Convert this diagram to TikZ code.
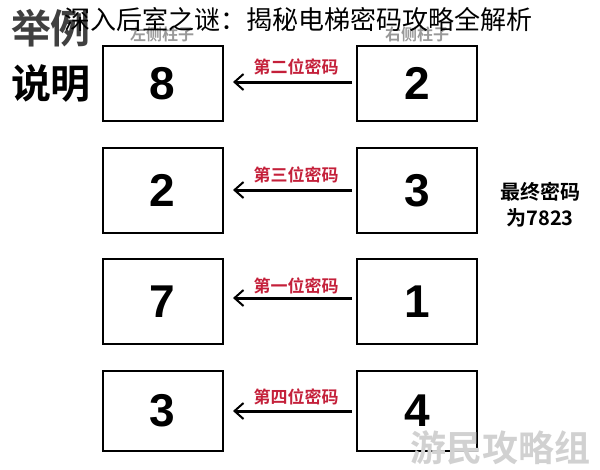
\documentclass[tikz,border=0pt]{standalone}
\usepackage{fontspec}
\setmainfont{Liberation Sans}
\newfontfamily\cjk{Noto Sans CJK SC}[BoldFont={* Bold}]
\usetikzlibrary{arrows.meta}
\definecolor{lblred}{HTML}{C4203A}
\tikzset{
  x=1pt,y=-1pt,
  numbox/.style={draw=black,line width=2pt,minimum width=120pt,minimum height=80pt,inner sep=0pt,font=\fontsize{46}{46}\selectfont\bfseries},
  lbl/.style={font=\cjk\bfseries\fontsize{17}{17}\selectfont,text=lblred,inner sep=0pt},
  arr/.style={line width=3pt,-{Straight Barb[length=9pt,width=16pt,line width=2pt]}},
  side/.style={font=\cjk\bfseries\fontsize{40}{40}\selectfont,inner sep=0pt},
  colhead/.style={font=\cjk\bfseries\fontsize{16}{16}\selectfont,text=black!40,inner sep=0pt},
}
\begin{document}
\begin{tikzpicture}
\useasboundingbox (0,0) rectangle (600,469);
% column headers
\node[colhead] (hl) at (162,34) {左侧柱子};
\node[colhead] (hr) at (417,34) {右侧柱子};
% side text
\node[side,text=black!75] (s1) at (51,28) {举例};
\node[side] (s2) at (51,83) {说明};
% boxes
\node[numbox,minimum height=75pt] (L1) at (162.5,83.5) {8};
\node[numbox,minimum height=75pt] (R1) at (417,83.5) {2};
\node[numbox,minimum height=85pt] (L2) at (162.5,190.5) {2};
\node[numbox,minimum height=85pt] (R2) at (417,190.5) {3};
\node[numbox,minimum height=85pt] (L3) at (162.5,301.5) {7};
\node[numbox,minimum height=85pt] (R3) at (417,301.5) {1};
\node[numbox] (L4) at (162.5,411) {3};
\node[numbox] (R4) at (417,411) {4};
% arrows
\coordinate (a1s) at (352,82); \coordinate (a1e) at (233,82);
\coordinate (a2s) at (352,190); \coordinate (a2e) at (233,190);
\coordinate (a3s) at (352,298); \coordinate (a3e) at (233,298);
\coordinate (a4s) at (352,411); \coordinate (a4e) at (233,411);
\draw[arr] (a1s) -- (a1e);
\draw[arr] (a2s) -- (a2e);
\draw[arr] (a3s) -- (a3e);
\draw[arr] (a4s) -- (a4e);
\node[lbl] (t1) at (296,67) {第二位密码};
\node[lbl] (t2) at (296,175) {第三位密码};
\node[lbl] (t3) at (296,286) {第一位密码};
\node[lbl] (t4) at (296,397) {第四位密码};
% final
\node[font=\cjk\bfseries\fontsize{20}{20}\selectfont,inner sep=0pt] (f1) at (540,192) {最终密码};
\node[font=\cjk\bfseries\fontsize{20}{20}\selectfont,inner sep=0pt] (f2) at (540,218) {为7823};
% watermark
\node[font=\cjk\bfseries\fontsize{36}{36}\selectfont,text=black!18,inner sep=0pt] (wm) at (500,448) {游民攻略组};
% title
\node[font=\cjk\fontsize{26}{26}\selectfont,inner sep=0pt] (title) at (298,20) {深入后室之谜：揭秘电梯密码攻略全解析};
\end{tikzpicture}
\end{document}
